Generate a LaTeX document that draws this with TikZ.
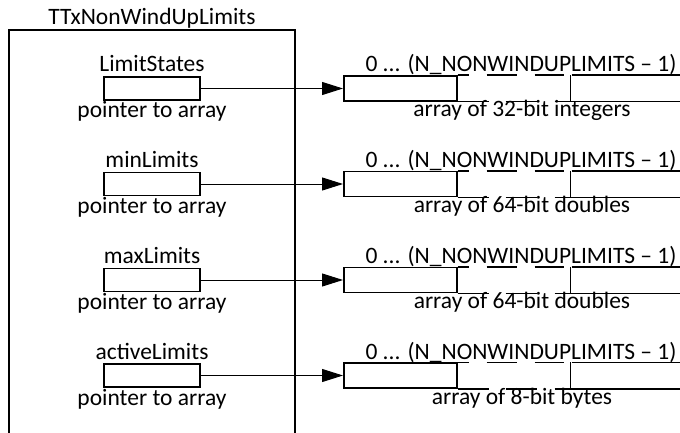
\documentclass[tikz,border=0pt]{standalone}
\usepackage{fontspec}
\setmainfont{Carlito}
\usetikzlibrary{arrows.meta}
\begin{document}
\begin{tikzpicture}[x=1pt,y=-1pt,
  lbl/.style={anchor=base,inner sep=0pt,font=\fontsize{23.5}{28}\selectfont},
  ptrbox/.style={draw,line width=1.5pt,minimum width=96pt,minimum height=23pt,inner sep=0pt},
  cellbox/.style={draw,line width=1.5pt,minimum width=113pt,minimum height=25pt,inner sep=0pt,anchor=west},
  arr/.style={line width=1pt,-{Triangle[length=21pt,width=13pt]}},
  frame/.style={line width=1.5pt}]
\useasboundingbox (0,0) rectangle (680,433);
\clip (0,0) rectangle (680,433);
\node[lbl] (title) at (152,25) {TTxNonWindUpLimits};
\draw[frame] (9,445) -- (9,30) -- (295,30) -- (295,445);
\foreach \i/\y/\name/\desc in {1/88.5/LimitStates/array of 32-bit integers,
                               2/184/minLimits/array of 64-bit doubles,
                               3/280/maxLimits/array of 64-bit doubles,
                               4/375.5/activeLimits/array of 8-bit bytes} {
  \node[ptrbox] (p\i) at (152,\y) {};
  \node[lbl] (pn\i) at (152,\y-16.5) {\name};
  \node[lbl] (pd\i) at (152,\y+29.5) {pointer to array};
  \node[cellbox] (c\i) at (343,\y) {};
  \draw[frame] (c\i.north east) -- ([xshift=11pt]c\i.north east);
  \draw[frame] ([xshift=29pt]c\i.north east) -- ([xshift=59pt]c\i.north east);
  \draw[frame] ([xshift=77pt]c\i.north east) -- ([xshift=106pt]c\i.north east);
  \draw[frame] ([xshift=114pt]c\i.north east) -- ([xshift=240pt]c\i.north east);
  \draw[frame] (c\i.south east) -- ([xshift=31pt]c\i.south east);
  \draw[frame] ([xshift=48pt]c\i.south east) -- ([xshift=79pt]c\i.south east);
  \draw[frame] ([xshift=97pt]c\i.south east) -- ([xshift=240pt]c\i.south east);
  \draw[frame] ([xshift=113pt]c\i.north east) -- ([xshift=113pt]c\i.south east);
  \node[lbl] (r\i) at (521,\y-16.5) {0 ... (N\_NONWINDUPLIMITS – 1)};
  \node[lbl] (d\i) at (522,\y+28.5) {\desc};
  \draw[arr] (p\i.east) -- (c\i.west);
}
\end{tikzpicture}
\end{document}
